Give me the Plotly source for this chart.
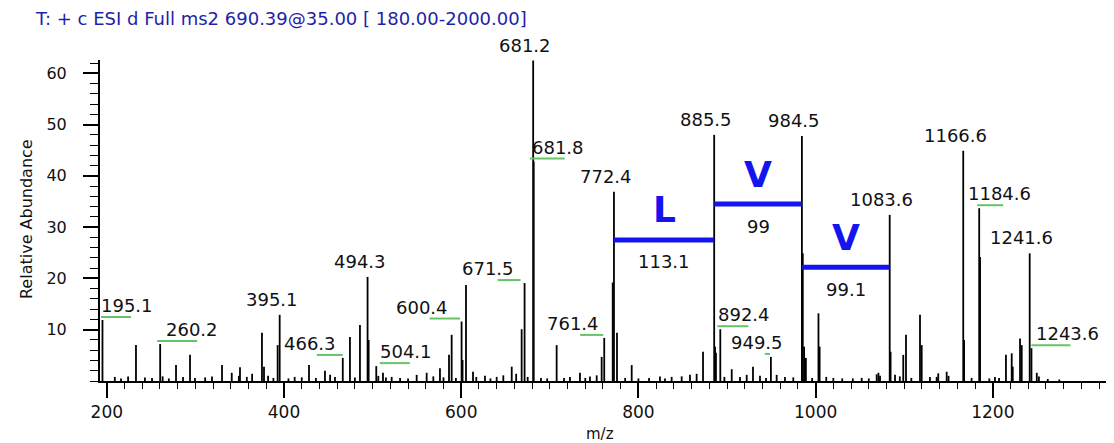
import plotly.graph_objects as go

# ---------------- data ----------------
title_text = "T: + c ESI d Full ms2 690.39@35.00 [ 180.00-2000.00]"

# labelled peaks (m/z, relative abundance)
label_mz = [195.1, 260.2, 395.1, 466.3, 494.3, 504.1, 600.4, 671.5, 681.2, 681.8,
            761.4, 772.4, 885.5, 892.4, 949.5, 984.5, 1083.6, 1166.6, 1184.6, 1241.6, 1243.6]
label_int = [11.9, 7.2, 12.9, 4.5, 20.3, 2.9, 11.6, 19.1, 62.5, 42.8,
             8.4, 36.9, 48.0, 10.1, 4.7, 47.8, 32.4, 44.9, 33.7, 24.9, 6.4]

# other visible peaks
other_mz = [232.9, 278.1, 293.9, 330.0, 350.3, 375.1, 377.4, 392.8, 428.2, 446.2,
            474.4, 485.7, 495.5, 511.7, 549.7, 561.0, 576.0, 586.2, 589.2, 601.5,
            605.4, 613.3, 657.0, 668.2, 707.7, 734.0, 758.5, 771.0, 775.8, 792.4,
            872.9, 886.5, 887.5, 905.3, 929.3, 985.5, 987.0, 989.0, 1003.2, 1004.5,
            1070.9, 1084.6, 1098.9, 1102.0, 1117.8, 1119.7, 1136.6, 1147.9, 1167.6, 1185.6,
            1202.4, 1214.8, 1221.3, 1222.5, 1230.7, 1232.6, 1249.6]
other_int = [7.0, 3.1, 5.1, 3.1, 2.7, 9.4, 2.8, 7.0, 3.1, 2.0,
             8.6, 10.9, 8.0, 1.6, 1.2, 1.6, 2.5, 5.1, 9.0, 4.1,
             18.7, 1.8, 2.8, 10.1, 7.0, 1.6, 4.7, 19.2, 9.4, 3.1,
             5.7, 6.7, 5.5, 2.3, 2.8, 24.9, 6.7, 4.5, 13.2, 6.7,
             1.6, 5.7, 5.1, 9.0, 12.9, 7.0, 0.8, 1.8, 8.0, 24.2,
             0.8, 5.1, 5.4, 2.8, 8.3, 7.0, 1.6]

# baseline noise
noise_mz = [209, 216, 224, 243, 251, 263, 270, 286, 299.5, 311, 318.7, 341, 349, 358, 364,
            382, 388, 405, 412, 420, 436, 452, 457.5, 480, 506.4, 515, 521.5, 531, 540,
            568.5, 580, 594, 617, 626.8, 633, 640, 647.5, 662, 675, 690, 697, 716, 722.7,
            740, 745.3, 752.9, 785, 800, 812, 824.3, 830, 837.5, 848.8, 858.2, 865.7, 897,
            914.6, 922.2, 937.2, 944, 956, 965.4, 974.8, 996, 1012, 1020, 1030, 1042, 1052,
            1060, 1068.9, 1072.7, 1089.6, 1095, 1108, 1129, 1138.4, 1150, 1176, 1196, 1207,
            1252, 1262, 1275]
noise_int = [0.8, 0.5, 0.9, 0.7, 0.6, 0.9, 0.5, 0.8, 0.6, 0.7, 0.9, 1.6, 1.0, 0.8, 1.4,
             1.0, 0.6, 0.5, 0.8, 0.7, 0.6, 1.2, 0.8, 0.7, 1.0, 0.7, 0.8, 0.6, 0.5,
             0.9, 0.7, 0.6, 0.8, 1.0, 0.5, 0.8, 1.1, 1.4, 0.8, 0.6, 0.5, 0.6, 0.8,
             0.6, 0.9, 1.1, 0.6, 0.5, 0.6, 0.9, 0.5, 0.8, 0.9, 1.2, 1.4, 0.8,
             0.8, 1.2, 1.0, 0.6, 1.2, 0.8, 0.7, 0.6, 0.8, 0.6, 0.5, 0.5, 0.6,
             0.5, 1.3, 1.0, 1.2, 0.9, 0.6, 0.8, 1.5, 1.0, 0.6, 0.5, 0.6,
             0.9, 0.4, 0.3]

# sequence ladder
ladder_from = [772.4, 885.5, 984.5]
ladder_to = [885.5, 984.5, 1083.6]
ladder_level = [27.5, 34.5, 22.2]
ladder_residue = ["L", "V", "V"]
ladder_delta = ["113.1", "99", "99.1"]

# labels drawn straight above the peak
plain_labels = [395.1, 494.3, 681.2, 772.4, 885.5, 984.5, 1083.6, 1166.6, 1241.6]
# labels with a green leader: m/z -> (text offset px, leader start px, leader end px)
leader_layout = {
    195.1: (-2, -1.5, 28.5),
    260.2: (5, -3, 37),
    466.3: (-60, -26, 0),
    504.1: (3, 3.5, 33.5),
    600.4: (-67, -32, -1.5),
    671.5: (-64, -27, -4),
    681.8: (-3, -4, 31),
    761.4: (-58, -24, -1),
    892.4: (-3, -3, 28),
    949.5: (-41, -6, -1),
    1184.6: (-12, -2, 24),
    1243.6: (3.5, 0, 39),
}

# ---------------- figure ----------------
FONT = "DejaVu Sans"
BLUE = "#1414ee"
GREEN = "#66c466"

all_mz = label_mz + other_mz + noise_mz
all_int = label_int + other_int + noise_int
xs, ys = [], []
for m, h in zip(all_mz, all_int):
    xs += [m, m, None]
    ys += [0, h, None]

fig = go.Figure()
fig.add_trace(go.Scatter(x=xs, y=ys, mode="lines",
                         line=dict(color="black", width=1.8),
                         hoverinfo="skip", showlegend=False))

intensity = dict(zip(label_mz, label_int))
annotations = []
shapes = []

for m in plain_labels:
    annotations.append(dict(x=m, y=intensity[m], xref="x", yref="y", text=f"{m:.1f}",
                            showarrow=False, xanchor="center", yanchor="bottom",
                            xshift=-8, yshift=4, borderpad=0,
                            font=dict(family=FONT, size=18, color="#111111")))

for m, (tdx, lx0, lx1) in leader_layout.items():
    h = intensity[m]
    annotations.append(dict(x=m, y=h, xref="x", yref="y", text=f"{m:.1f}",
                            showarrow=False, xanchor="left", yanchor="bottom",
                            xshift=tdx, yshift=3, borderpad=0,
                            font=dict(family=FONT, size=18, color="#111111")))
    shapes.append(dict(type="line", xref="x", yref="y",
                       xsizemode="pixel", xanchor=m, x0=lx0, x1=lx1,
                       ysizemode="pixel", yanchor=h, y0=3, y1=3,
                       line=dict(color=GREEN, width=2)))

for a, b, lvl, res, d in zip(ladder_from, ladder_to, ladder_level, ladder_residue, ladder_delta):
    shapes.append(dict(type="line", xref="x", yref="y", x0=a, x1=b, y0=lvl, y1=lvl,
                       line=dict(color=BLUE, width=5)))
    mid = (a + b) / 2
    annotations.append(dict(x=mid, y=lvl, xref="x", yref="y", text=res, showarrow=False,
                            xanchor="center", yanchor="middle", yshift=30,
                            font=dict(family=FONT, size=36, color=BLUE, weight="bold")))
    annotations.append(dict(x=mid, y=lvl, xref="x", yref="y", text=d, showarrow=False,
                            xanchor="center", yanchor="middle", yshift=-22,
                            font=dict(family=FONT, size=18, color="#111111")))

# title and axis titles
annotations.append(dict(x=-0.0662, y=1.1308, xref="paper", yref="paper", text=title_text,
                        showarrow=False, xanchor="left", yanchor="middle",
                        font=dict(family=FONT, size=18, color="#1f1fa8")))
annotations.append(dict(x=-0.0721, y=0.5047, xref="paper", yref="paper",
                        text="Relative Abundance", textangle=-90, showarrow=False,
                        xanchor="center", yanchor="middle",
                        font=dict(family=FONT, size=16, color="#111111")))
annotations.append(dict(x=0.494, y=-0.165, xref="paper", yref="paper", text="m/z",
                        showarrow=False, xanchor="center", yanchor="middle",
                        font=dict(family=FONT, size=15, color="#111111")))

# the page body adds an 8 px offset; size the figure so the plot area lands
# at the reference position inside the 1114x443 window
fig.update_layout(
    width=1106, height=435,
    margin=dict(l=92, r=2, t=52, b=62),
    paper_bgcolor="white", plot_bgcolor="white",
    showlegend=False,
    annotations=annotations, shapes=shapes,
    xaxis=dict(range=[192.3, 1334.5], showgrid=False, zeroline=False, automargin=False,
               showline=True, linecolor="black", linewidth=2,
               ticks="outside", ticklen=15, tickwidth=1.5, tickcolor="black",
               tickmode="linear", tick0=0, dtick=200,
               tickfont=dict(family=FONT, size=17, color="#111111"),
               minor=dict(ticks="outside", ticklen=6, tickwidth=1.2, tickcolor="black",
                          tick0=0, dtick=20, showgrid=False)),
    yaxis=dict(range=[0, 62.6], showgrid=False, zeroline=False, automargin=False,
               showline=True, linecolor="black", linewidth=2,
               ticks="outside", ticklen=15, tickwidth=1.5, tickcolor="black",
               tickmode="array", tickvals=[10, 20, 30, 40, 50, 60],
               ticklabelstandoff=13,
               tickfont=dict(family=FONT, size=16, color="#111111"),
               minor=dict(ticks="outside", ticklen=8, tickwidth=1.2, tickcolor="black",
                          tickmode="linear", tick0=0, dtick=2, showgrid=False)),
)

fig.write_html("out.html")
